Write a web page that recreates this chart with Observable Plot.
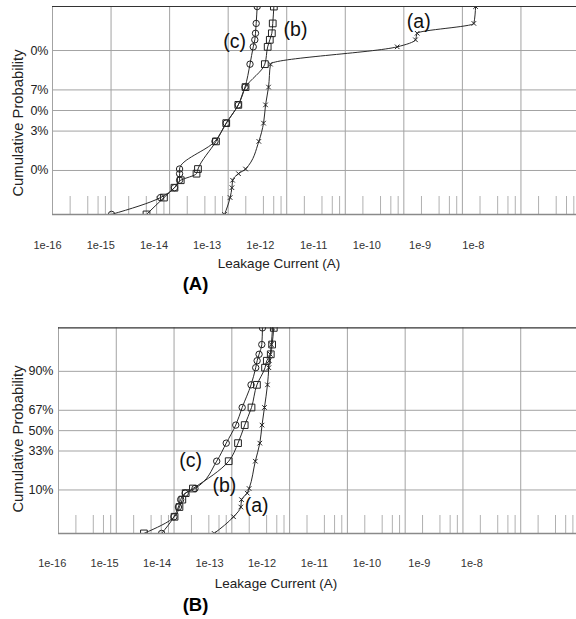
<!DOCTYPE html>
<html><head><meta charset="utf-8">
<script src="https://cdn.jsdelivr.net/npm/d3@7"></script>
<script src="https://cdn.jsdelivr.net/npm/@observablehq/plot@0.6"></script>
<style>
html,body{margin:0;padding:0;background:#fff;overflow:hidden;width:576px;height:619px;}
#root{position:relative;width:576px;height:619px;overflow:hidden;font-family:Arial,"Liberation Sans",sans-serif;}
#root svg{max-width:none !important;}
.abs{position:absolute;left:0;}
.t{position:absolute;white-space:nowrap;color:#222;transform:translate(-50%,-50%);line-height:1;}
.rot{transform:translate(-50%,-50%) rotate(-90deg);}
</style></head><body><div id="root"></div>
<script>
// ---- data ----
const cumulativeProbability = [1.32, 3.14, 4.95, 6.81, 8.85, 10.56, 25.46, 39.36, 54.78, 69.15, 83.89, 91.31, 93.45, 95.05, 96.86, 98.68];

const panelA_a = [8.67e-14, 1.08e-13, 1.16e-13, 1.19e-13, 1.50e-13, 1.98e-13, 3.34e-13, 4.02e-13, 4.35e-13, 4.89e-13, 5.28e-13, 7.71e-11, 1.58e-10, 1.69e-10, 1.57e-9, 1.68e-9];
const panelA_b = [4.03e-15, 8.0e-15, 1.21e-14, 1.55e-14, 2.88e-14, 3.05e-14, 6.19e-14, 9.27e-14, 1.49e-13, 1.98e-13, 4.23e-13, 4.73e-13, 5.14e-13, 5.57e-13, 5.77e-13, 6.03e-13];
const panelA_c = [1.02e-15, 7.0e-15, 1.21e-14, 1.48e-14, 1.48e-14, 1.48e-14, 5.95e-14, 9.27e-14, 1.49e-13, 1.94e-13, 2.36e-13, 2.68e-13, 2.85e-13, 2.93e-13, 3.01e-13, 3.13e-13];

const panelB_a = [4.95e-14, 1.07e-13, 1.43e-13, 1.47e-13, 1.85e-13, 1.99e-13, 2.55e-13, 3.05e-13, 3.33e-13, 3.67e-13, 4.14e-13, 4.37e-13, 4.45e-13, 4.63e-13, 4.82e-13, 5.06e-13];
const panelB_b = [3.01e-15, 1.02e-14, 1.24e-14, 1.39e-14, 1.59e-14, 2.12e-14, 8.83e-14, 1.28e-13, 1.67e-13, 2.19e-13, 2.72e-13, 3.76e-13, 4.03e-13, 4.72e-13, 4.98e-13, 5.32e-13];
const panelB_c = [6.09e-15, 9.95e-15, 1.19e-14, 1.30e-14, 1.56e-14, 2.30e-14, 5.47e-14, 8.0e-14, 1.17e-13, 1.51e-13, 2.15e-13, 2.59e-13, 2.74e-13, 2.96e-13, 3.30e-13, 3.39e-13];

const seriesNames = ["(a)", "(b)", "(c)"];
const labelCurrentA = [1.80e-10, 1.41e-12, 1.29e-13];
const labelProbA = [97.17, 95.78, 93.04];
const labelCurrentB = [2.68e-13, 7.45e-14, 1.94e-14];
const labelProbB = [5.16, 11.8, 25.8];

const probTicks = [10, 33, 50, 67, 90];
const probTickLabelsA = ["0%", "3%", "0%", "7%", "0%"];
const probTickLabelsB = ["10%", "33%", "50%", "67%", "90%"];
const probDomain = [1.314, 98.686];

const currentDomain = [1e-16, 1e-7];
const decadeTicks = [1e-16, 1e-15, 1e-14, 1e-13, 1e-12, 1e-11, 1e-10, 1e-9, 1e-8];
const decadeTickLabels = ["1e-16", "1e-15", "1e-14", "1e-13", "1e-12", "1e-11", "1e-10", "1e-9", "1e-8"];
const minorMultipliers = [2, 4, 6, 8];

const xTitle = "Leakage Current (A)";
const yTitle = "Cumulative Probability";

// ---- normal probability (probit) scale helper ----
function probit(p) {
  const a = [-3.969683028665376e+01, 2.209460984245205e+02, -2.759285104469687e+02, 1.383577518672690e+02, -3.066479806614716e+01, 2.506628277459239e+00];
  const b = [-5.447609879822406e+01, 1.615858368580409e+02, -1.556989798598866e+02, 6.680131188771972e+01, -1.328068155288572e+01];
  const c = [-7.784894002430293e-03, -3.223964580411365e-01, -2.400758277161838e+00, -2.549732539343734e+00, 4.374664141464968e+00, 2.938163982698783e+00];
  const d = [7.784695709041462e-03, 3.224671290700398e-01, 2.445134137142996e+00, 3.754408661907416e+00];
  const pl = 0.02425, ph = 1 - pl;
  let q, r;
  if (p < pl) { q = Math.sqrt(-2 * Math.log(p)); return (((((c[0]*q+c[1])*q+c[2])*q+c[3])*q+c[4])*q+c[5]) / ((((d[0]*q+d[1])*q+d[2])*q+d[3])*q+1); }
  if (p <= ph) { q = p - 0.5; r = q*q; return (((((a[0]*r+a[1])*r+a[2])*r+a[3])*r+a[4])*r+a[5])*q / (((((b[0]*r+b[1])*r+b[2])*r+b[3])*r+b[4])*r+1); }
  q = Math.sqrt(-2 * Math.log(1 - p)); return -(((((c[0]*q+c[1])*q+c[2])*q+c[3])*q+c[4])*q+c[5]) / ((((d[0]*q+d[1])*q+d[2])*q+d[3])*q+1);
}
const zOf = (pct) => probit(pct / 100);
const minorTicks = decadeTicks.flatMap(t => minorMultipliers.map(m => t * m));

const root = document.getElementById("root");
function place(el, top) { el.classList.add("abs"); el.style.top = top + "px"; root.appendChild(el); }
function addText(txt, x, y, size, extra) {
  const d = document.createElement("div");
  d.className = "t" + (extra && extra.rot ? " rot" : "");
  d.textContent = txt;
  d.style.left = x + "px"; d.style.top = y + "px"; d.style.fontSize = size + "px";
  if (extra && extra.bold) d.style.fontWeight = "bold";
  if (extra && extra.color) d.style.color = extra.color;
  root.appendChild(d);
}

function panel(cfg) {
  const series = [cfg.a, cfg.b, cfg.c];
  const symbols = ["times", "square", "circle"];
  const radii = [2.2, 3.8, 3.2];
  const frameH = cfg.height - cfg.marginTop - cfg.marginBottom;
  const marks = [
    Plot.ruleY(probTicks, {y: d => zOf(d), stroke: "#a3a3a3", strokeWidth: 1}),
    Plot.ruleX(decadeTicks, {x: d => d, stroke: "#a3a3a3", strokeWidth: 1}),
    Plot.ruleX(minorTicks, {x: d => d, stroke: "#b0b0b0", strokeWidth: 1, insetTop: frameH - 18}),
  ];
  series.forEach((vals, k) => {
    const rows = vals.map((v, i) => ({current: v, p: cumulativeProbability[i]}));
    marks.push(Plot.line(rows, {x: "current", y: d => zOf(d.p), curve: "monotone-y", stroke: "#2a2a2a", strokeWidth: 1, clip: true}));
    marks.push(Plot.dot(rows, {x: "current", y: d => zOf(d.p), symbol: symbols[k], r: radii[k], stroke: "#222", strokeWidth: 1, fill: "none", clip: true}));
  });
  marks.push(
    Plot.ruleY([zOf(probDomain[0])], {stroke: "#8a8a8a", strokeWidth: 1.6}),
    Plot.ruleY([zOf(probDomain[1])], {stroke: "#333", strokeWidth: 1.2}),
    Plot.text(probTicks, {y: d => zOf(d), text: (d, i) => cfg.tickLabels[i], frameAnchor: "left", textAnchor: "end", dx: -cfg.tickPad, fontSize: 12.5, fill: "#222", fontFamily: "Arial, 'Liberation Sans', sans-serif"}),
    Plot.text(seriesNames, {x: (d, i) => cfg.labelX[i], y: (d, i) => zOf(cfg.labelP[i]), text: d => d, fontSize: 19.5, fill: "#111", fontFamily: "Arial, 'Liberation Sans', sans-serif"})
  );
  const main = Plot.plot({
    width: cfg.width, height: cfg.height,
    marginTop: cfg.marginTop, marginBottom: cfg.marginBottom, marginLeft: cfg.marginLeft, marginRight: 0,
    x: {type: "log", domain: currentDomain, axis: null},
    y: {type: "linear", domain: [zOf(probDomain[0]), zOf(probDomain[1])], axis: null},
    style: {background: "transparent", overflow: "visible"},
    marks
  });
  place(main, cfg.top);

  const axis = Plot.plot({
    width: 576, height: 20, marginTop: 0, marginBottom: 0,
    marginLeft: cfg.labLeft, marginRight: cfg.labRight,
    x: {type: "log", domain: currentDomain, axis: null},
    style: {background: "transparent", overflow: "visible"},
    marks: [
      Plot.text(decadeTicks, {x: d => d, text: (d, i) => decadeTickLabels[i], frameAnchor: "middle", fontSize: 11, fill: "#333", fontFamily: "Arial, 'Liberation Sans', sans-serif"})
    ]
  });
  place(axis, cfg.labTop);

  addText(xTitle, cfg.xTitleX, cfg.xTitleY, 13.5);
  addText(yTitle, 18.3, cfg.yTitleY, 14.8, {rot: true});
  addText(cfg.panelName, 195.5, cfg.nameY, 18.5, {bold: true, color: "#000"});
}

panel({top: 0, width: 579, height: 216, marginTop: 6, marginBottom: 2, marginLeft: 52,
  a: panelA_a, b: panelA_b, c: panelA_c, tickLabels: probTickLabelsA, tickPad: 4,
  labelX: labelCurrentA, labelP: labelProbA,
  labTop: 235, labLeft: 47, labRight: 50,
  xTitleX: 279, xTitleY: 263.5, yTitleY: 122.5, panelName: "(A)", nameY: 283.5});

panel({top: 321, width: 578, height: 214, marginTop: 6.3, marginBottom: 2, marginLeft: 58,
  a: panelB_a, b: panelB_b, c: panelB_c, tickLabels: probTickLabelsB, tickPad: 5,
  labelX: labelCurrentB, labelP: labelProbB,
  labTop: 553, labLeft: 51.7, labRight: 52.2,
  xTitleX: 276, xTitleY: 584, yTitleY: 438.7, panelName: "(B)", nameY: 605});
</script></body></html>
